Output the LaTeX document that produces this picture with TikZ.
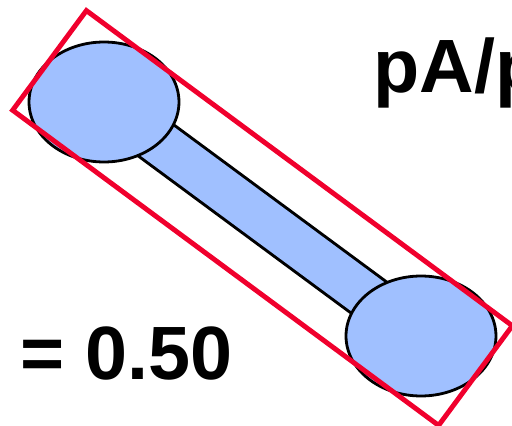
\documentclass[tikz,border=0pt]{standalone}
\usepackage{fontspec}
\setmainfont{Liberation Sans}
\usetikzlibrary{shapes.geometric}

\begin{document}
\begin{tikzpicture}[x=0.02cm, y=-0.02cm]
        % Colours of the dumbbell and the frame
        \definecolor{beadblue}{RGB}{160, 192, 255}
        \definecolor{framered}{RGB}{240, 0, 45}

        % Sizes (in pixels of the original picture)
        \def\barwidth{0.98cm}
        \def\barfill{0.86cm}
        \def\tilt{-36.5}

        \tikzset{
            bead/.style={ellipse, draw=black, line width=1.6pt, fill=beadblue,
                minimum width=3cm, minimum height=2.4cm, inner sep=0pt},
            framebox/.style={rectangle, draw=framered, line width=2.8pt,
                minimum width=10.6cm, minimum height=2.48cm, inner sep=0pt},
            bigtext/.style={anchor=base west, inner sep=0pt,
                font=\fontsize{43}{50}\selectfont\bfseries}
        }

        % Page size
        \useasboundingbox (0,0) rectangle (512,426);
        \clip (0,0) rectangle (512,426);

        % Centres of the two beads
        \coordinate (beadA) at (104,102);
        \coordinate (beadB) at (421,336);

        % Rod between the beads
        \draw[line width=\barwidth, black] (beadA) -- (beadB);
        \draw[line width=\barfill, beadblue] (beadA) -- (beadB);

        % Beads
        \node[bead] (left) at (beadA) {};
        \node[bead] (right) at (beadB) {};

        % Tilted frame round the dumbbell
        \node[framebox, rotate=\tilt] (box) at (262.5,218) {};

        % Labels
        \node[bigtext] (ratio) at (373,92) {pA/p};
        \node[bigtext] (value) at (20,380) {= 0.50};
\end{tikzpicture}
\end{document}
